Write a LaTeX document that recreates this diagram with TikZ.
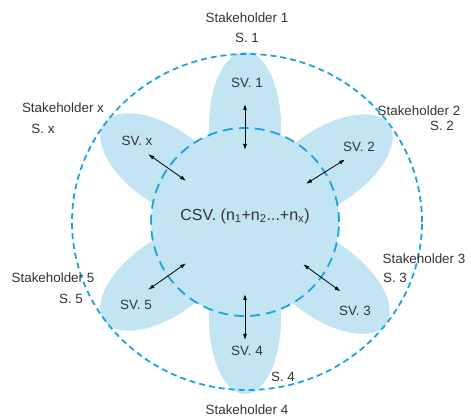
\documentclass[tikz,border=0pt]{standalone}
\usepackage{fontspec}
\setmainfont{Liberation Sans}
\usetikzlibrary{arrows.meta}

\definecolor{petalblue}{HTML}{C3E4F3}
\definecolor{lineblue}{HTML}{1AA3E0}
\definecolor{textgray}{HTML}{333333}

\begin{document}
\begin{tikzpicture}[x=1pt, y=1pt]

\tikzstyle petal=[fill=petalblue]
\tikzstyle ring=[draw=lineblue, line width=1.8pt]
\tikzstyle link=[<->, >={Latex[length=6pt, width=4pt]}, line width=0.8pt, black]
\tikzstyle lbl=[text=textgray, font=\fontsize{13.4}{15}\selectfont, inner sep=0pt]

\useasboundingbox (0,0) rectangle (471,420);
\coordinate (c) at (245,198);

% petals
\fill[petal, rotate around={90:(c)}]  (c) ++(96,0) ellipse (74 and 36);
\fill[petal, rotate around={34:(c)}]  (c) ++(98,0) ellipse (76 and 38);
\fill[petal, rotate around={-36:(c)}] (c) ++(98,0) ellipse (76 and 38);
\fill[petal, rotate around={-90:(c)}] (c) ++(97,0) ellipse (75 and 36);
\fill[petal, rotate around={215:(c)}] (c) ++(97,0) ellipse (75 and 38);
\fill[petal, rotate around={145:(c)}] (c) ++(97,0) ellipse (75 and 38);

% circles
\fill[petal] (c) circle (94);
\draw[ring, dash pattern=on 10pt off 6pt] (c) circle (94);
\draw[ring, dash pattern=on 6pt off 4pt] (247,198) ellipse (175 and 168);

\node (csv) [text=textgray, font=\fontsize{16}{18}\selectfont] at (245,204)
  {CSV. (n\textsubscript{1}+n\textsubscript{2}...+n\textsubscript{x})};

\node (sv1) [lbl] at (247,337) {SV. 1};
\node (sv2) [lbl] at (359,273) {SV. 2};
\node (sv3) [lbl] at (355,109) {SV. 3};
\node (sv4) [lbl] at (247,69)  {SV. 4};
\node (sv5) [lbl] at (136,115) {SV. 5};
\node (svx) [lbl] at (137,279) {SV. x};

\node (st1) [lbl] at (247,402) {Stakeholder 1};
\node (s1)  [lbl] at (247,382) {S. 1};
\node (st2) [lbl] at (419,309) {Stakeholder 2};
\node (s2)  [lbl] at (442,294) {S. 2};
\node (st3) [lbl] at (424,161) {Stakeholder 3};
\node (s3)  [lbl] at (395,142) {S. 3};
\node (st4) [lbl] at (247,10)  {Stakeholder 4};
\node (s4)  [lbl] at (283,43)  {S. 4};
\node (st5) [lbl] at (53,142)  {Stakeholder 5};
\node (s5)  [lbl] at (71,121)  {S. 5};
\node (stx) [lbl] at (63,312)  {Stakeholder x};
\node (sx)  [lbl] at (43,291)  {S. x};

% arrow ends
\coordinate (a1) at ([shift={(90:72)}]c);
\coordinate (b1) at ([shift={(90:118)}]c);
\coordinate (a2) at ([shift={(32:72)}]c);
\coordinate (b2) at ([shift={(32:118)}]c);
\coordinate (a3) at ([shift={(-36:72)}]c);
\coordinate (b3) at ([shift={(-36:118)}]c);
\coordinate (a4) at ([shift={(-90:72)}]c);
\coordinate (b4) at ([shift={(-90:118)}]c);
\coordinate (a5) at ([shift={(215:72)}]c);
\coordinate (b5) at ([shift={(215:118)}]c);
\coordinate (ax) at ([shift={(145:72)}]c);
\coordinate (bx) at ([shift={(145:118)}]c);

\draw [link] (a1) -- (b1);
\draw [link] (a2) -- (b2);
\draw [link] (a3) -- (b3);
\draw [link] (a4) -- (b4);
\draw [link] (a5) -- (b5);
\draw [link] (ax) -- (bx);

\end{tikzpicture}
\end{document}
